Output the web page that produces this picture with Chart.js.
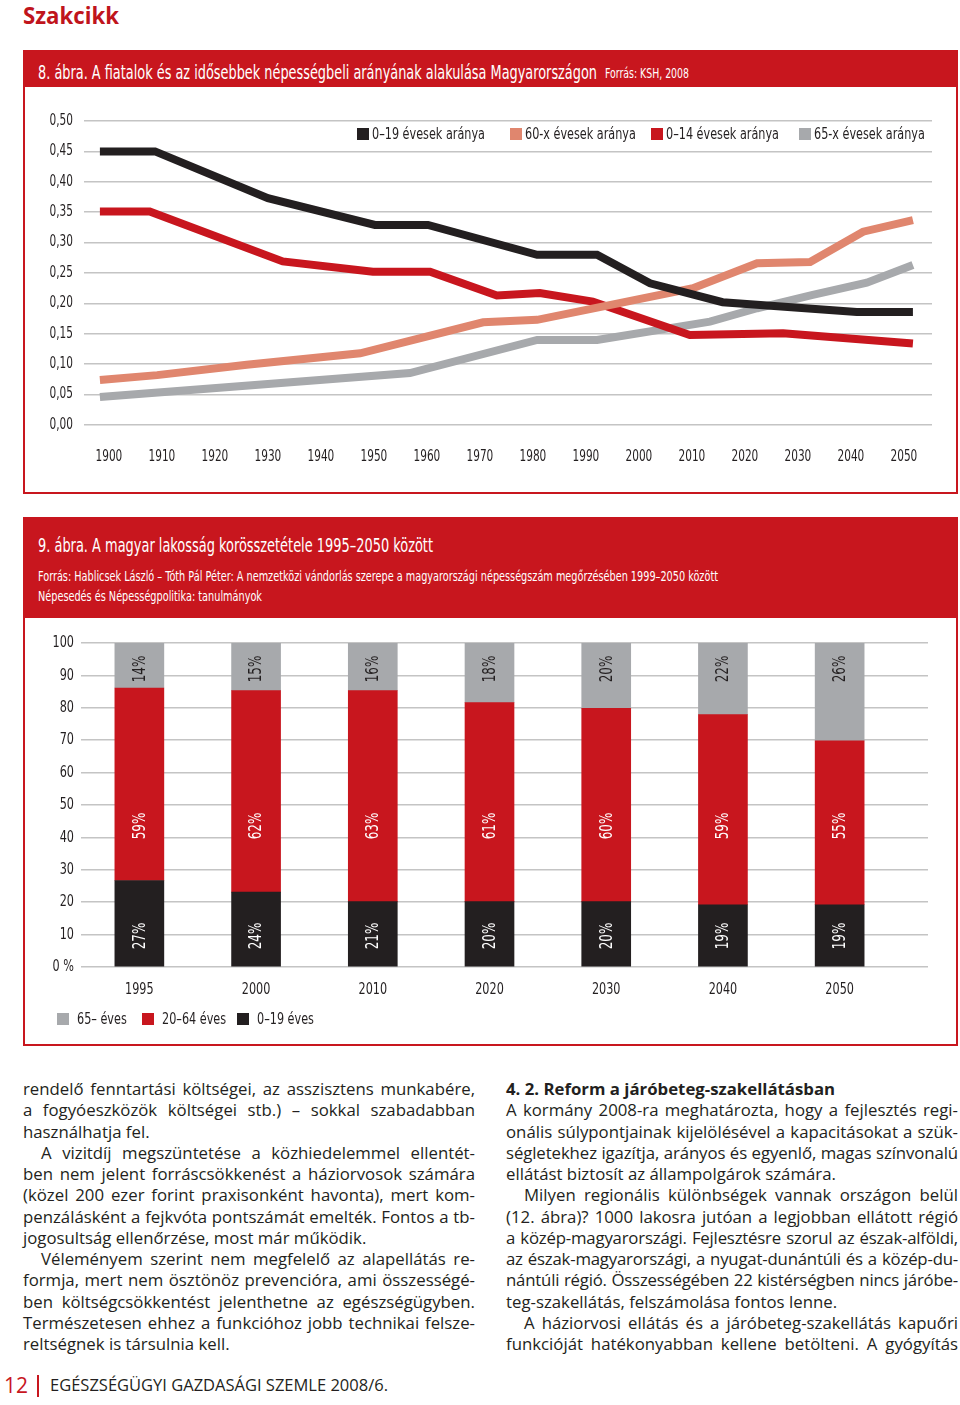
<!DOCTYPE html>
<html lang="hu">
<head>
<meta charset="utf-8">
<script src="https://cdn.jsdelivr.net/npm/chart.js@4.4.1/dist/chart.umd.min.js"></script>
<style>
html,body{margin:0;padding:0;background:#fff}
body{width:960px;height:1405px;position:relative;overflow:hidden;font-family:'Open Sans',sans-serif;color:#231f20}
.abs{position:absolute;white-space:nowrap}
.fx{display:inline-block;transform-origin:0 50%}
#kicker{left:23px;top:-2px;font-weight:700;font-size:24px;line-height:34px;color:#c0141c}
.frame{position:absolute;left:23px;width:931px;border:2px solid #c8161e;background:#fff}
.band{position:absolute;left:23px;width:935px;background:#c8161e}
.cond{font-family:var(--cond)}
.htitle{color:#fff;font-size:20px;line-height:24px}
.hsrc{color:#fff;font-size:14px;line-height:18px}
canvas{position:absolute}
.leg{position:absolute;font-family:var(--cond);font-size:16px;line-height:16px;white-space:nowrap;color:#231f20}
.leg i{display:inline-block;width:12px;height:12px;vertical-align:-1px}
.leg span{display:inline-block;transform:scaleX(.78);transform-origin:0 50%}
.col{position:absolute;top:1078px;width:452px;font-size:16.8px}
.l{height:21.25px;line-height:21.25px;text-align:justify;text-align-last:justify;overflow:visible}
.e{text-align-last:left}
.i{text-indent:18px}
.b{font-weight:700;text-align-last:left}
</style>
</head>
<body>
<div id="kicker" class="abs"><span class="fx" data-w="96">Szakcikk</span></div>

<!-- 8. ábra -->
<div class="frame" style="top:50px;height:440px"></div>
<div class="band" style="top:50px;height:37px"></div>
<div class="abs cond htitle" style="left:38px;top:60px"><span class="fx" data-w="559">8. ábra. A fiatalok és az idősebbek népességbeli arányának alakulása Magyarországon</span></div>
<div class="abs cond hsrc" style="left:605px;top:64px"><span class="fx" data-w="84">Forrás: KSH, 2008</span></div>
<canvas id="c1" width="931" height="404" style="left:25px;top:88px"></canvas>
<div id="leg1"></div>

<!-- 9. ábra -->
<div class="frame" style="top:517px;height:525px"></div>
<div class="band" style="top:517px;height:101px"></div>
<div class="abs cond htitle" style="left:38px;top:533px"><span class="fx" data-w="395">9. ábra. A magyar lakosság korösszetétele 1995–2050 között</span></div>
<div class="abs cond hsrc" style="left:38px;top:567px"><span class="fx" data-w="680">Forrás: Hablicsek László – Tóth Pál Péter: A nemzetközi vándorlás szerepe a magyarországi népességszám megőrzésében 1999–2050 között</span></div>
<div class="abs cond hsrc" style="left:38px;top:587px"><span class="fx" data-w="224">Népesedés és Népességpolitika: tanulmányok</span></div>
<canvas id="c2" width="931" height="425" style="left:25px;top:619px"></canvas>
<div id="leg2"></div>

<!-- body text -->
<div class="col" style="left:23px">
<div class="l">rendelő fenntartási költségei, az asszisztens munkabére,</div>
<div class="l">a fogyóeszközök költségei stb.) – sokkal szabadabban</div>
<div class="l e">használhatja fel.</div>
<div class="l i">A vizitdíj megszüntetése a közhiedelemmel ellentét-</div>
<div class="l">ben nem jelent forráscsökkenést a háziorvosok számára</div>
<div class="l">(közel 200 ezer forint praxisonként havonta), mert kom-</div>
<div class="l">penzálásként a fejkvóta pontszámát emelték. Fontos a tb-</div>
<div class="l e">jogosultság ellenőrzése, most már működik.</div>
<div class="l i">Véleményem szerint nem megfelelő az alapellátás re-</div>
<div class="l">formja, mert nem ösztönöz prevencióra, ami összességé-</div>
<div class="l">ben költségcsökkentést jelenthetne az egészségügyben.</div>
<div class="l">Természetesen ehhez a funkcióhoz jobb technikai felsze-</div>
<div class="l e">reltségnek is társulnia kell.</div>
</div>
<div class="col" style="left:506px">
<div class="l b">4. 2. Reform a járóbeteg-szakellátásban</div>
<div class="l">A kormány 2008-ra meghatározta, hogy a fejlesztés regi-</div>
<div class="l">onális súlypontjainak kijelölésével a kapacitásokat a szük-</div>
<div class="l">ségletekhez igazítja, arányos és egyenlő, magas színvonalú</div>
<div class="l e">ellátást biztosít az állampolgárok számára.</div>
<div class="l i">Milyen regionális különbségek vannak országon belül</div>
<div class="l">(12. ábra)? 1000 lakosra jutóan a legjobban ellátott régió</div>
<div class="l">a közép-magyarországi. Fejlesztésre szorul az észak-alföldi,</div>
<div class="l">az észak-magyarországi, a nyugat-dunántúli és a közép-du-</div>
<div class="l">nántúli régió. Összességében 22 kistérségben nincs járóbe-</div>
<div class="l e">teg-szakellátás, felszámolása fontos lenne.</div>
<div class="l i">A háziorvosi ellátás és a járóbeteg-szakellátás kapuőri</div>
<div class="l">funkcióját hatékonyabban kellene betölteni. A gyógyítás</div>
</div>

<!-- footer -->
<div class="abs" style="left:4px;top:1370px;font-size:21px;line-height:30px;color:#c8161e">12</div>
<div class="abs" style="left:37px;top:1375px;width:2px;height:22px;background:#c8161e"></div>
<div class="abs" style="left:50px;top:1373px;font-size:16px;line-height:24px;color:#231f20"><span class="fx" data-w="338">EGÉSZSÉGÜGYI GAZDASÁGI SZEMLE 2008/6.</span></div>

<script>
// ---------- data: 8. ábra ----------
const xTickYears = [1900,1910,1920,1930,1940,1950,1960,1970,1980,1990,2000,2010,2020,2030,2040,2050];
const s019Years = [1898.3,1908.7,1930,1950.2,1960.2,1980.8,1992.1,2002.1,2015.8,2041.1,2051.7];
const s019Vals  = [0.450,0.450,0.373,0.329,0.329,0.280,0.280,0.233,0.202,0.186,0.186];
const s60Years  = [1898.3,1909.1,1926,1947.4,1970.6,1980.8,2010.2,2022.3,2032.3,2042.3,2051.7];
const s60Vals   = [0.074,0.082,0.099,0.118,0.169,0.173,0.225,0.266,0.268,0.318,0.337];
const s014Years = [1898.3,1907.7,1932.8,1949.8,1960.6,1973.2,1981.3,1991.3,2009.6,2027.2,2051.7];
const s014Vals  = [0.351,0.351,0.269,0.252,0.252,0.213,0.217,0.203,0.148,0.151,0.134];
const s65Years  = [1898.3,1956.8,1980.8,1992.1,2013.4,2022.3,2032.8,2043,2051.7];
const s65Vals   = [0.046,0.0855,0.140,0.140,0.170,0.192,0.214,0.234,0.263];
const series1Names = ['0–19 évesek aránya','60-x évesek aránya','0–14 évesek aránya','65-x évesek aránya'];

// ---------- data: 9. ábra ----------
const years2 = ['1995','2000','2010','2020','2030','2040','2050'];
const b019  = [26.7,23.1,20.2,20.2,20.2,19.2,19.2];
const b2064 = [59.4,62.2,65.1,61.4,59.6,58.7,50.6];
const b65   = [13.9,14.7,14.7,18.4,20.2,22.1,30.2];
const lab019  = ['27%','24%','21%','20%','20%','19%','19%'];
const lab2064 = ['59%','62%','63%','61%','60%','59%','55%'];
const lab65   = ['14%','15%','16%','18%','20%','22%','26%'];
const series2Names = ['0–19 éves','20–64 éves','65– éves'];

// ---------- styles ----------
const BLACK='#231f20', RED='#c8161e', ORANGE='#e0866e', GRAY='#a7a9ac', GRID='#c4c4c4';
const SQX = 0.78; // horizontal squeeze for canvas text (condensed look)

function hasFont(name){
  const c=document.createElement('canvas').getContext('2d');
  const s='abcdefghijklmnopqrstuvwxyzABCDEFGH0123456789';
  let diff=false;
  ['monospace','serif'].forEach(fb=>{
    c.font='40px '+fb; const a=c.measureText(s).width;
    c.font='40px "'+name+'", '+fb; const b=c.measureText(s).width;
    if(a!==b) diff=true;
  });
  return diff;
}
const condCands=['Liberation Sans Narrow','DejaVu Sans Condensed','Roboto Condensed','Open Sans Condensed','Noto Sans Condensed','Arial Narrow'];
let COND='Roboto';
for(const f of condCands){ if(hasFont(f)){ COND=f; break; } }
const CONDSTACK='"'+COND+'", Roboto, sans-serif';
document.documentElement.style.setProperty('--cond', CONDSTACK);

// fit text widths (simulate condensed typography)
document.querySelectorAll('.fx').forEach(el=>{
  const t=+el.dataset.w; const w=el.getBoundingClientRect().width;
  if(w>0) el.style.transform='scaleX('+(t/w)+')';
});
// keep justified lines on one line
document.querySelectorAll('.l').forEach(el=>{
  let ls=0;
  while(el.scrollHeight>23 && ls>-1.2){ ls-=0.1; el.style.letterSpacing=ls+'px'; }
});

Chart.defaults.font.family=CONDSTACK;
Chart.defaults.color=BLACK;

// condensed look for all canvas text drawn by the charts
const squeeze={
  id:'squeeze',
  beforeDraw(chart){
    const ctx=chart.ctx;
    if(ctx._sq) return;
    const orig=ctx.fillText.bind(ctx);
    ctx.fillText=function(t,x,y){ this.save(); this.translate(x,y); this.scale(SQX,1); orig(t,0,0); this.restore(); };
    ctx._sq=true;
  }
};

function pts(xs,ys){ return xs.map((x,i)=>({x:x,y:ys[i]})); }

const c1 = new Chart(document.getElementById('c1'), {
  type:'line',
  data:{datasets:[
    {label:series1Names[0], data:pts(s019Years,s019Vals), borderColor:BLACK, backgroundColor:BLACK},
    {label:series1Names[1], data:pts(s60Years,s60Vals), borderColor:ORANGE, backgroundColor:ORANGE},
    {label:series1Names[2], data:pts(s014Years,s014Vals), borderColor:RED, backgroundColor:RED},
    {label:series1Names[3], data:pts(s65Years,s65Vals), borderColor:GRAY, backgroundColor:GRAY}
  ]},
  options:{
    responsive:false, animation:false, devicePixelRatio:1,
    layout:{padding:{top:33,right:24,left:0,bottom:0}},
    plugins:{legend:{display:false},tooltip:{enabled:false}},
    elements:{point:{radius:0},line:{tension:0,borderWidth:8,borderCapStyle:'butt',borderJoinStyle:'miter',fill:false}},
    scales:{
      x:{type:'linear',min:1895.3,max:2055.3,
        afterBuildTicks:s=>{ s.ticks=xTickYears.map(v=>({value:v})); },
        afterFit:s=>{ s.height=67; },
        grid:{display:false,drawTicks:false}, border:{display:false},
        ticks:{autoSkip:false,maxRotation:0,padding:23,font:{size:15},color:BLACK,callback:v=>String(v)}},
      y:{min:0,max:0.5,
        afterFit:s=>{ s.width=59; },
        grid:{color:GRID,lineWidth:1.5,drawTicks:false}, border:{display:false},
        ticks:{stepSize:0.05,padding:11,font:{size:15},color:BLACK,callback:v=>v.toFixed(2).replace('.',',')}}
    }
  },
  plugins:[squeeze]
});

const barLabels={
  id:'barLabels',
  afterDatasetsDraw(chart){
    const ctx=chart.ctx, area=chart.chartArea;
    chart.data.datasets.forEach((ds,di)=>{
      const meta=chart.getDatasetMeta(di);
      meta.data.forEach((el,i)=>{
        const y = ds.lblFrom==='top' ? el.y+ds.lblOff : area.bottom-ds.lblOff;
        ctx.save();
        ctx.translate(el.x+1,y);
        ctx.rotate(-Math.PI/2);
        ctx.textAlign='center'; ctx.textBaseline='middle';
        ctx.fillStyle=ds.lblColor;
        ctx.font='17px '+CONDSTACK;
        ctx.fillText(ds.lblTexts[i],0,0);
        ctx.restore();
      });
    });
  }
};

const idx2 = years2.map((_,i)=>i);
const c2 = new Chart(document.getElementById('c2'), {
  type:'bar',
  data:{datasets:[
    {label:series2Names[0], data:pts(idx2,b019), backgroundColor:BLACK, lblTexts:lab019, lblColor:'#fff', lblFrom:'bottom', lblOff:31},
    {label:series2Names[1], data:pts(idx2,b2064), backgroundColor:RED, lblTexts:lab2064, lblColor:'#fff', lblFrom:'bottom', lblOff:141},
    {label:series2Names[2], data:pts(idx2,b65), backgroundColor:GRAY, lblTexts:lab65, lblColor:BLACK, lblFrom:'top', lblOff:26}
  ]},
  options:{
    responsive:false, animation:false, devicePixelRatio:1,
    layout:{padding:{top:24,right:28,left:0,bottom:0}},
    plugins:{legend:{display:false},tooltip:{enabled:false}},
    datasets:{bar:{barThickness:49,borderWidth:0}},
    scales:{
      x:{type:'linear',stacked:true,offset:false,min:-0.5,max:6.757,
        afterBuildTicks:s=>{ s.ticks=idx2.map(i=>({value:i})); },
        afterFit:s=>{ s.height=77; },
        grid:{display:false,drawTicks:false,offset:false}, border:{display:false},
        ticks:{autoSkip:false,maxRotation:0,padding:13,font:{size:16},color:BLACK,callback:v=>years2[v]}},
      y:{stacked:true,min:0,max:100,
        afterFit:s=>{ s.width=56; },
        grid:{color:GRID,lineWidth:1.5,drawTicks:false}, border:{display:false},
        ticks:{stepSize:10,padding:7,font:{size:16},color:BLACK,callback:v=>v===0?'0 %':String(v)}}
    }
  },
  plugins:[squeeze,barLabels]
});

// HTML legends built from chart datasets
function buildLegend(id, items, lefts, top, gap){
  const host=document.getElementById(id);
  items.forEach((d,k)=>{
    const div=document.createElement('div');
    div.className='leg';
    div.style.left=lefts[k]+'px'; div.style.top=top+'px';
    const sq=document.createElement('i');
    sq.style.background=d.color; sq.style.marginRight=gap+'px';
    const tx=document.createElement('span'); tx.textContent=d.label;
    div.appendChild(sq); div.appendChild(tx);
    host.appendChild(div);
  });
}
buildLegend('leg1', c1.data.datasets.map(d=>({label:d.label,color:d.borderColor})), [357,510,651,799], 126, 3);
buildLegend('leg2', c2.data.datasets.slice().reverse().map(d=>({label:d.label,color:d.backgroundColor})), [57,142,237], 1011, 8);
</script>
</body>
</html>
